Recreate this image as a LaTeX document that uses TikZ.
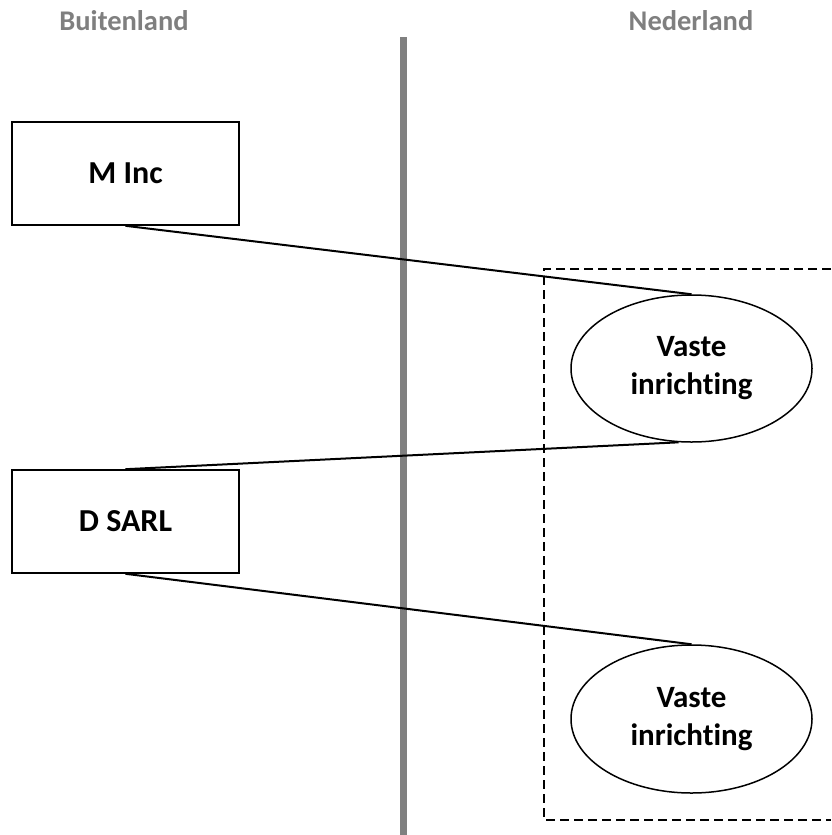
\documentclass[tikz,border=0pt]{standalone}
\usepackage{fontspec}
\setmainfont{Carlito}[RawFeature=-liga]
\usetikzlibrary{shapes.geometric}
\definecolor{divider}{HTML}{808080}
\definecolor{heading}{HTML}{7F7F7F}
\begin{document}
\begin{tikzpicture}[x=1pt, y=-1pt,
  heading/.style={text=heading, font=\fontsize{28.5}{32}\selectfont\bfseries, inner sep=0pt},
  entity/.style={draw, line width=1.6pt, rectangle, minimum width=227pt, minimum height=103pt,
    inner sep=0pt, font=\fontsize{32}{38}\selectfont\bfseries},
  branch/.style={draw, line width=1.5pt, ellipse, minimum width=241pt, minimum height=147pt,
    inner sep=0pt, align=center, font=\fontsize{31}{38}\selectfont\bfseries},
  link/.style={line width=2pt},
  border/.style={line width=2.5pt, dash pattern=on 9pt off 5pt}]
  \useasboundingbox (0,0) rectangle (831,835);

  % column headings
  \node[heading] (hdrL) at (124,21) {Buitenland};
  \node[heading] (hdrR) at (691,21) {Nederland};

  % border between the two jurisdictions
  \coordinate (divTop) at (403,37);
  \coordinate (divBot) at (403,835);
  \draw[divider, line width=7pt] (divTop) -- (divBot);

  % Dutch territory (open to the right)
  \coordinate (nlTR) at (831,269);
  \coordinate (nlTL) at (544,269);
  \coordinate (nlBL) at (544,820);
  \coordinate (nlBR) at (831,820);
  \draw[border] (nlTR) -- (nlTL) -- (nlBL) -- (nlBR);

  % entities
  \node[entity] (minc)  at (125.5,173.5) {M Inc};
  \node[entity] (dsarl) at (125.5,521.5) {D SARL};
  \node[branch] (vi1) at (691.5,368.5) {Vaste\\inrichting};
  \node[branch, minimum height=148pt] (vi2) at (691.5,719) {Vaste\\inrichting};

  % connections
  \draw[link] (minc.south) -- (vi1.north);
  \draw[link] (dsarl.north) -- (vi1.260);
  \draw[link] (dsarl.south) -- (vi2.north);
\end{tikzpicture}
\end{document}
